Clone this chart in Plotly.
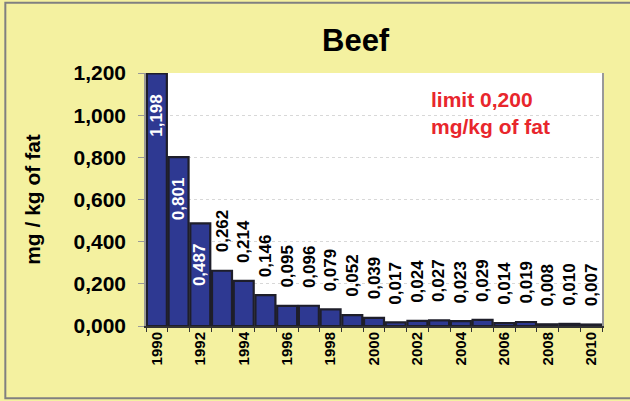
import plotly.graph_objects as go

years = [1990, 1991, 1992, 1993, 1994, 1995, 1996, 1997, 1998, 1999, 2000,
         2001, 2002, 2003, 2004, 2005, 2006, 2007, 2008, 2009, 2010]
values = [1.198, 0.801, 0.487, 0.262, 0.214, 0.146, 0.095, 0.096, 0.079, 0.052, 0.039,
          0.017, 0.024, 0.027, 0.023, 0.029, 0.014, 0.019, 0.008, 0.010, 0.007]
y_ticks = [0, 0.2, 0.4, 0.6, 0.8, 1.0, 1.2]
y_ticktext = ["0,000", "0,200", "0,400", "0,600", "0,800", "1,000", "1,200"]

FONT = "Liberation Sans, Arial, sans-serif"
BG = "#F4F1A0"

def fmt(v):
    return f"{v:.3f}".replace(".", ",")

xcats = [str(y) for y in years]

fig = go.Figure()
fig.add_trace(go.Bar(
    x=xcats, y=values,
    marker=dict(color="#2E3992", line=dict(color="#1E1E2A", width=2.2)),
    hoverinfo="x+y",
))

for i, v in enumerate(values):
    inside = v > 0.4
    fig.add_annotation(
        x=i, y=v, xref="x", yref="y",
        text=fmt(v), textangle=-90, showarrow=False,
        xanchor="center",
        yanchor="top" if inside else "bottom",
        yshift=-18 if inside else 16,
        font=dict(family=FONT, size=17, weight="bold",
                  color="white" if inside else "black"),
    )

fig.update_layout(
    width=630, height=401,
    margin=dict(l=146, r=28, t=73, b=75),
    paper_bgcolor=BG,
    plot_bgcolor="white",
    bargap=0.08,
    showlegend=False,
    font=dict(family=FONT, color="black"),
)
fig.update_xaxes(
    type="category",
    range=[-0.5, len(xcats) - 0.5],
    tickmode="array",
    tickvals=xcats,
    ticktext=[c if int(c) % 2 == 0 else "" for c in xcats],
    tickangle=-90,
    tickfont=dict(family=FONT, size=15, weight="bold"),
    tickson="boundaries",
    ticks="outside", ticklen=4, tickcolor="#333",
    ticklabelstandoff=-2,
    showline=True, linecolor="#333", linewidth=2,
    mirror=False,
    showgrid=False,
)
fig.update_yaxes(
    range=[0, 1.2],
    tickmode="array", tickvals=y_ticks, ticktext=y_ticktext,
    tickfont=dict(family=FONT, size=21, weight="bold"),
    ticks="outside", ticklen=6, tickcolor="#999",
    ticklabelstandoff=8,
    showline=True, linecolor="#999", linewidth=1.5,
    mirror=True,
    showgrid=True, gridcolor="#D8D8D8", griddash="dot", gridwidth=1,
    zeroline=False,
    title=dict(text="mg / kg of fat", font=dict(family=FONT, size=21, weight="bold"), standoff=27),
)
fig.add_annotation(
    text="Beef", xref="paper", yref="paper", x=0.46, y=1.127,
    xanchor="center", yanchor="middle", showarrow=False,
    font=dict(family=FONT, size=31, weight="bold", color="black"),
)
fig.add_annotation(
    text="limit 0,200<br>mg/kg of fat", xref="paper", yref="paper", x=0.62, y=0.95,
    xanchor="left", yanchor="top", align="left", showarrow=False,
    font=dict(family=FONT, size=21, weight="bold", color="#E8262C"),
)
fig.add_shape(
    type="rect", xref="paper", yref="paper",
    x0=-0.3085, x1=1.08, y0=-0.2857, y1=1.278,
    line=dict(color="#808080", width=2), fillcolor="rgba(0,0,0,0)", layer="below",
)

fig.write_html("out.html", config={"displayModeBar": False},
               post_script="document.body.style.margin='0';")
